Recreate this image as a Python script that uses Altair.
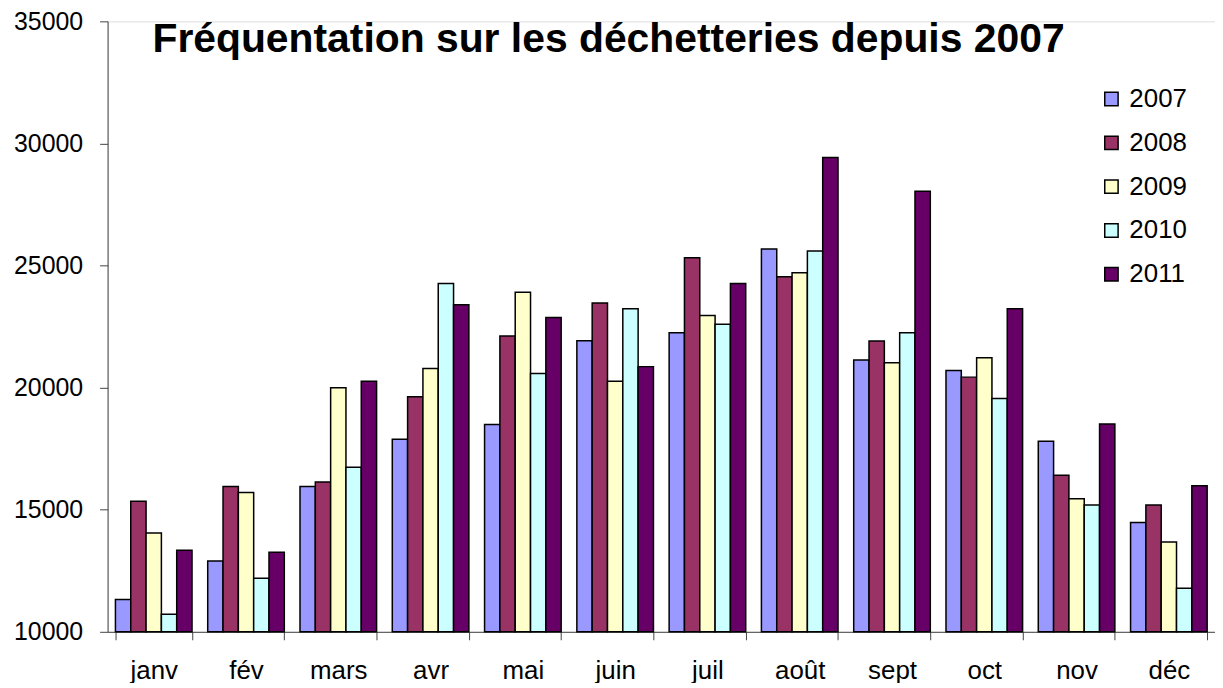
import altair as alt
import pandas as pd

months = ["janv", "fév", "mars", "avr", "mai", "juin", "juil", "août", "sept", "oct", "nov", "déc"]
years = ["2007", "2008", "2009", "2010", "2011"]
v2007 = [11320, 12900, 15950, 17890, 18490, 21920, 22250, 25680, 21130, 20700, 17800, 14480]
v2008 = [15350, 15950, 16140, 19630, 22110, 23470, 25320, 24540, 21910, 20430, 16410, 15190]
v2009 = [14050, 15710, 19990, 20780, 23910, 20260, 22950, 24700, 21020, 21220, 15450, 13680]
v2010 = [10720, 12190, 16740, 24260, 20580, 23230, 22600, 25600, 22250, 19550, 15190, 11780]
v2011 = [13340, 13260, 20260, 23390, 22870, 20860, 24260, 29420, 28040, 23230, 18510, 15980]
colors = ["#9999FF", "#993366", "#FFFFCC", "#CCFFFF", "#660066"]
title_text = "Fréquentation sur les déchetteries depuis 2007"

series = [v2007, v2008, v2009, v2010, v2011]
rows = []
for y, vals in zip(years, series):
    for m, v in zip(months, vals):
        rows.append({"mois": m, "annee": y, "valeur": v})
df = pd.DataFrame(rows)

FONT = "Liberation Sans"

bars = alt.Chart(df).mark_bar(stroke="black", strokeWidth=1.5).encode(
    x=alt.X("mois:N", sort=months, title=None,
            scale=alt.Scale(paddingInner=0.17, paddingOuter=0.085),
            axis=alt.Axis(labelAngle=0, tickBand="extent", labelFontSize=26,
                          labelFont=FONT, labelColor="black", tickSize=8,
                          tickColor="#444444", domainColor="#444444",
                          labelPadding=18, grid=False)),
    xOffset=alt.XOffset("annee:N", sort=years),
    y=alt.Y("valeur:Q", title=None,
            scale=alt.Scale(domain=[10000, 35000], zero=False, nice=False),
            axis=alt.Axis(values=[10000, 15000, 20000, 25000, 30000, 35000],
                          format="d",
                          labelFontSize=25, labelFont=FONT, labelColor="black",
                          tickSize=8, tickColor="#444444", domainColor="#444444",
                          labelPadding=17, grid=False)),
    y2=alt.datum(10000),
    color=alt.Color("annee:N", sort=years, title=None,
                    scale=alt.Scale(domain=years, range=colors),
                    legend=alt.Legend(orient="none", legendX=995, legendY=65,
                                      symbolType="square", symbolSize=180,
                                      symbolStrokeColor="black", symbolStrokeWidth=1.5,
                                      labelFontSize=26, labelFont=FONT, labelColor="black",
                                      rowPadding=18, labelOffset=5)),
)

title = alt.Chart(alt.Data(values=[{}])).mark_text(
    text=title_text, font=FONT, fontSize=41, fontWeight="bold", color="black",
    align="center", baseline="alphabetic"
).encode(x=alt.value(503), y=alt.value(31))

chart = alt.layer(bars, title).properties(
    width=1112, height=613,
    autosize=alt.AutoSizeParams(type="none"),
    padding={"left": 100, "top": 12, "right": 0, "bottom": 50},
).configure_view(stroke=None).configure(background="white")

chart.save("out.html", embed_options={"renderer": "svg", "actions": False})
